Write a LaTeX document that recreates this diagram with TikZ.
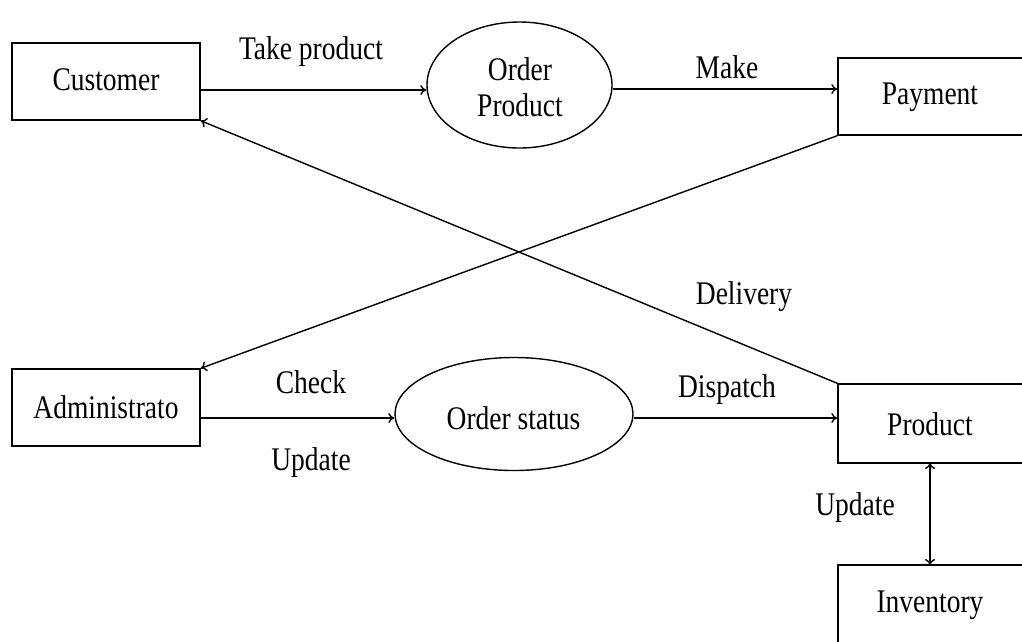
\documentclass[tikz,border=0pt]{standalone}
\usepackage{fontspec}
\setmainfont{Liberation Serif}
\usepackage{graphicx}
\usetikzlibrary{arrows.meta,shapes.geometric}
\newcommand{\tl}[1]{\scalebox{1}[1.2]{#1}}
\tikzset{
  ent/.style={draw, line width=1.4pt, rectangle, inner sep=0pt},
  proc/.style={draw, line width=1.4pt, ellipse, inner sep=0pt},
  lbl/.style={inner sep=0pt, font=\fontsize{27.5}{30}\selectfont},
  flow/.style={line width=1.4pt, -{To[length=6pt,width=10pt]}},
  both/.style={line width=1.4pt, {To[length=6pt,width=10pt]}-{To[length=6pt,width=10pt]}}
}
\begin{document}
\begin{tikzpicture}[x=1pt,y=-1pt]
\useasboundingbox (0,0) rectangle (1022,641);
\clip (0,0) rectangle (1022,641);
% external entities
\node[ent, minimum width=188pt, minimum height=77pt] (cust) at (106,81.5) {};
\node[lbl] at (106,80) {\tl{Customer}};
\node[ent, minimum width=188pt, minimum height=77pt] (admin) at (106,407.5) {};
\node[lbl] at (106,407) {\tl{Administrato}};
\node[ent, minimum width=188pt, minimum height=77pt] (pay) at (932,96.5) {};
\node[lbl] at (930,97) {\tl{Payment}};
\node[ent, minimum width=188pt, minimum height=79pt] (prod) at (932,423.5) {};
\node[lbl] at (930,424) {\tl{Product}};
\node[ent, minimum width=188pt, minimum height=90pt] (inv) at (932,610) {};
\node[lbl] at (930,605) {\tl{Inventory}};
% processes
\node[proc, minimum width=185pt, minimum height=126pt] (op) at (519.5,85) {};
\node[lbl] at (520,69) {\tl{Order}};
\node[lbl] at (520,105) {\tl{Product}};
\node[proc, minimum width=238pt, minimum height=113pt] (os) at (514,414) {};
\node[lbl] at (513.5,418) {\tl{Order status}};
% flows
\draw[flow] (cust.east |- 0,90) -- (op.west |- 0,90);
\draw[flow] (op.east |- 0,89) -- (pay.west |- 0,89);
\draw[flow] (admin.east |- 0,418) -- (os.west |- 0,418);
\draw[flow] (os.east |- 0,418) -- (prod.west |- 0,418);
\draw[flow] (prod.north west) -- (cust.south east);
\draw[flow] (pay.south west) -- (admin.north east);
\coordinate (pb) at (930,463);
\coordinate (it) at (930,565);
\draw[both] (pb) -- (it);
% flow labels
\node[lbl] at (311,52) {\tl{Take product}};
\node[lbl] at (727,67) {\tl{Make}};
\node[lbl] at (744,297) {\tl{Delivery}};
\node[lbl] at (311,382) {\tl{Check}};
\node[lbl] at (311,463) {\tl{Update}};
\node[lbl] at (727,390) {\tl{Dispatch}};
\node[lbl] at (855,508) {\tl{Update}};
\end{tikzpicture}
\end{document}
